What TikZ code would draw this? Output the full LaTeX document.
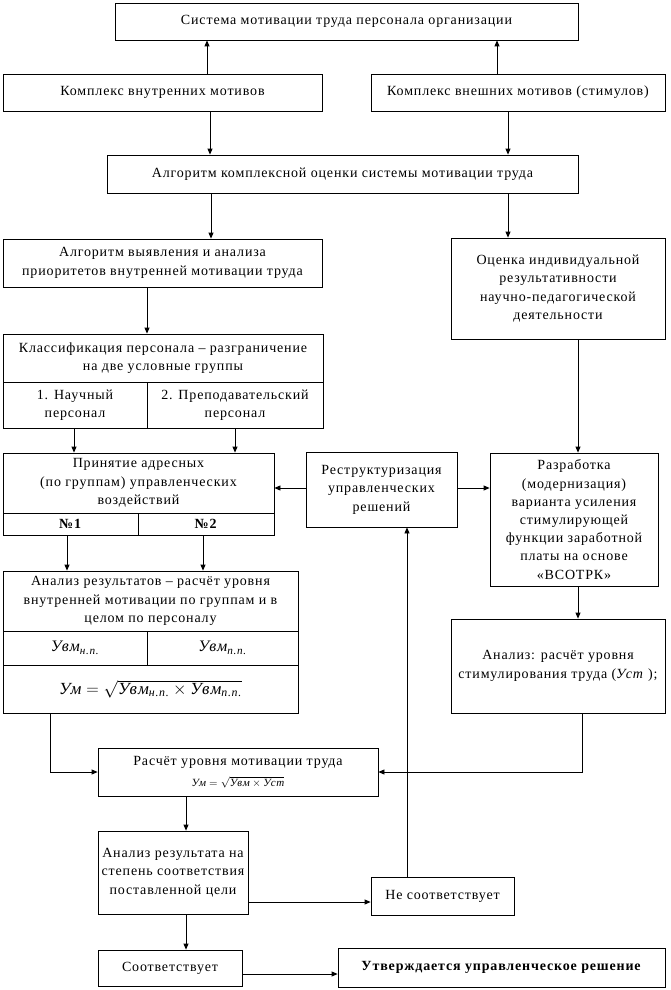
\documentclass[tikz,border=0pt]{standalone}
\usepackage{fontspec}
\usepackage{amsmath}
\setmainfont{Liberation Serif}[LetterSpace=6]
\usetikzlibrary{arrows.meta}
\newcommand{\iv}[1]{\text{\itshape #1}}
\begin{document}
\begin{tikzpicture}[x=1pt,y=-1pt,
  box/.style={draw, line width=0.8pt, inner sep=1pt, align=center, font=\fontsize{14}{18.5}\selectfont},
  arr/.style={line width=0.8pt, -{Triangle[length=6pt,width=5pt]}},
  ln/.style={line width=0.8pt}]
\useasboundingbox (0,0) rectangle (670,990);
% helper coordinates
\coordinate (x207) at (207,0);
\coordinate (x497) at (497,0);
\coordinate (x210) at (210,0);
\coordinate (x508) at (508,0);
\coordinate (x211) at (211,0);
\coordinate (x147) at (147,0);
\coordinate (x578) at (578,0);
\coordinate (x74) at (74,0);
\coordinate (x235) at (235,0);
\coordinate (x67) at (67,0);
\coordinate (x203) at (203,0);
\coordinate (x50) at (50,0);
\coordinate (x582) at (582,0);
\coordinate (x186) at (186,0);
\coordinate (x407) at (407,0);
\coordinate (y488) at (0,488);
\coordinate (y902) at (0,902);
\coordinate (y974) at (0,974);
% boxes
\node[box, minimum width=463pt, minimum height=37pt] (b1) at (346.5,21.5) {Система мотивации труда персонала организации};
\node[box, minimum width=319pt, minimum height=37pt] (b2) at (162.5,92.5) {Комплекс внутренних мотивов};
\node[box, minimum width=294pt, minimum height=37pt] (b3) at (518,92.5) {Комплекс внешних мотивов (стимулов)};
\node[box, minimum width=471pt, minimum height=38pt] (b4) at (342.5,174) {Алгоритм комплексной оценки системы мотивации труда};
\node[box, minimum width=319pt, minimum height=48pt] (b5) at (162.5,263) {Алгоритм выявления и анализа\\приоритетов внутренней мотивации труда};
\node[box, minimum width=214pt, minimum height=101pt] (b6) at (558,288.5) {Оценка индивидуальной\\результативности\\научно-педагогической\\деятельности};
\node[box, minimum width=320pt, minimum height=48pt] (b7t) at (163,358) {Классификация персонала – разграничение\\на две условные группы};
\node[box, minimum width=144pt, minimum height=46pt] (b7a) at (75,405) {1. Научный\\персонал};
\node[box, minimum width=176pt, minimum height=46pt] (b7b) at (235,405) {2. Преподавательский\\персонал};
\node[box, minimum width=271pt, minimum height=60pt] (b8t) at (138.5,483) {Принятие адресных\\(по группам) управленческих\\воздействий};
\node[box, minimum width=135pt, minimum height=22pt] (b8a) at (70.5,524) {\textbf{№1}};
\node[box, minimum width=136pt, minimum height=22pt] (b8b) at (206,524) {\textbf{№2}};
\node[box, minimum width=151pt, minimum height=75pt] (b9) at (381.5,489.5) {Реструктуризация\\управленческих\\решений};
\node[box, minimum width=168pt, minimum height=133pt, font=\fontsize{14}{18.2}\selectfont] (b10) at (574,519.5) {Разработка\\(модернизация)\\варианта усиления\\стимулирующей\\функции заработной\\платы на основе\\«ВСОТРК»};
\node[box, minimum width=295pt, minimum height=60pt] (b11t) at (150.5,601) {Анализ результатов – расчёт уровня\\внутренней мотивации по группам и в\\целом по персоналу};
\node[box, minimum width=144pt, minimum height=34pt, font=\fontsize{16}{18}\selectfont] (b11a) at (75,648) {$\iv{Увм}_{\iv{н.п.}}$};
\node[box, minimum width=151pt, minimum height=34pt, font=\fontsize{16}{18}\selectfont] (b11b) at (222.5,648) {$\iv{Увм}_{\iv{п.п.}}$};
\node[box, minimum width=295pt, minimum height=48pt, font=\fontsize{17}{19}\selectfont] (b11c) at (150.5,689) {$\iv{Ум} = \sqrt{\iv{Увм}_{\iv{н.п.}} \times \iv{Увм}_{\iv{п.п.}}}$};
\node[box, minimum width=214pt, minimum height=94pt] (b12) at (558,666) {Анализ: расчёт уровня\\стимулирования труда (\textit{Уст} );};
\node[box, minimum width=280pt, minimum height=48pt, font=\fontsize{14}{17}\selectfont] (b13) at (238,772) {Расчёт уровня мотивации труда\\[4pt]{\fontsize{11}{12}\selectfont $\iv{Ум} = \sqrt{\iv{Увм}\times\iv{Уст}}$}};
\node[box, minimum width=150pt, minimum height=83pt] (b14) at (173,872.5) {Анализ результата на\\степень соответствия\\поставленной цели};
\node[box, minimum width=143pt, minimum height=38pt] (b15) at (442.5,896) {Не соответствует};
\node[box, minimum width=144pt, minimum height=36pt] (b16) at (170,968) {Соответствует};
\node[box, minimum width=327pt, minimum height=39pt] (b17) at (501.5,967.5) {\textbf{Утверждается управленческое решение}};
% connectors
\draw[arr] (b2.north -| x207) -- (b1.south -| x207);
\draw[arr] (b3.north -| x497) -- (b1.south -| x497);
\draw[arr] (b2.south -| x210) -- (b4.north -| x210);
\draw[arr] (b3.south -| x508) -- (b4.north -| x508);
\draw[arr] (b4.south -| x211) -- (b5.north -| x211);
\draw[arr] (b4.south -| x508) -- (b6.north -| x508);
\draw[arr] (b5.south -| x147) -- (b7t.north -| x147);
\draw[arr] (b6.south -| x578) -- (b10.north -| x578);
\draw[arr] (b7a.south -| x74) -- (b8t.north -| x74);
\draw[arr] (b7b.south -| x235) -- (b8t.north -| x235);
\draw[arr] (b9.west |- y488) -- (b8t.east |- y488);
\draw[arr] (b9.east |- y488) -- (b10.west |- y488);
\draw[arr] (b8a.south -| x67) -- (b11t.north -| x67);
\draw[arr] (b8b.south -| x203) -- (b11t.north -| x203);
\draw[arr] (b10.south -| x578) -- (b12.north -| x578);
\draw[arr] (b11c.south -| x50) |- (b13.west);
\draw[arr] (b12.south -| x582) |- (b13.east);
\draw[arr] (b13.south -| x186) -- (b14.north -| x186);
\draw[arr] (b14.east |- y902) -- (b15.west |- y902);
\draw[arr] (b15.north -| x407) -- (b9.south -| x407);
\draw[arr] (b14.south -| x186) -- (b16.north -| x186);
\draw[arr] (b16.east |- y974) -- (b17.west |- y974);
\end{tikzpicture}
\end{document}
